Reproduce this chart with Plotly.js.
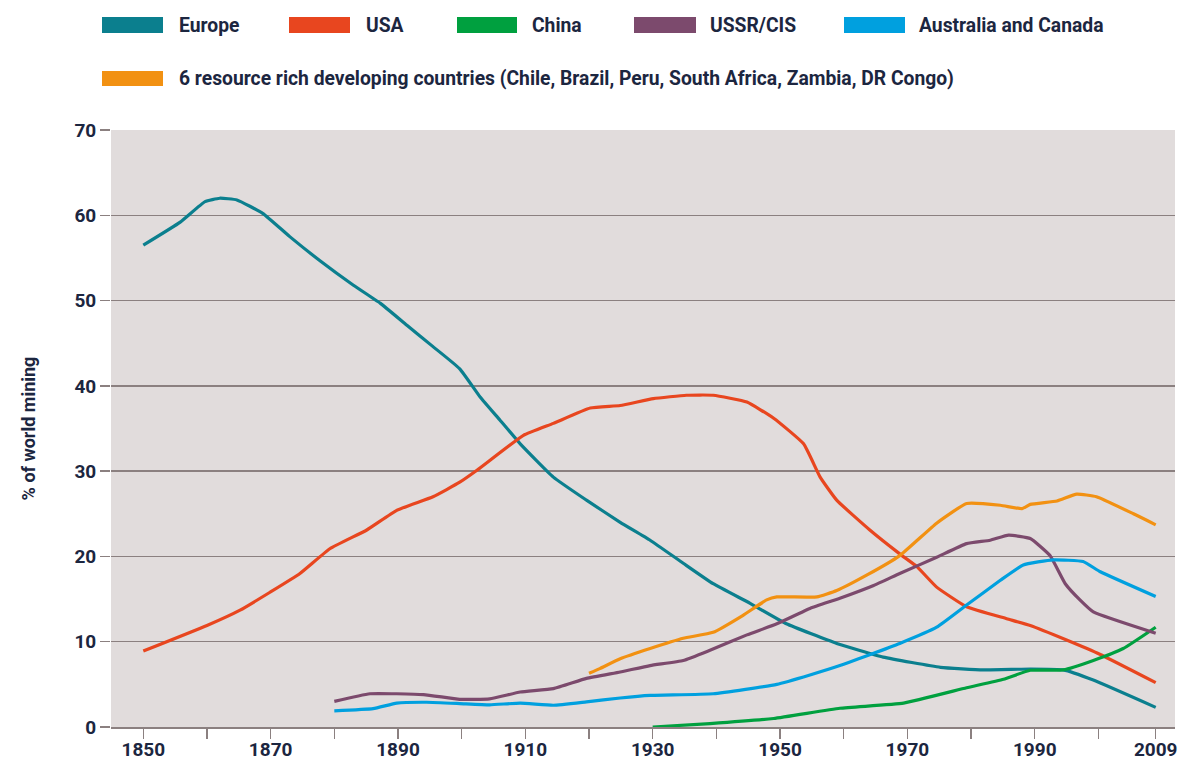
<!DOCTYPE html>
<html>
<head>
<meta charset="utf-8">
<script src="https://cdn.plot.ly/plotly-3.0.1.min.js"></script>
<style>
  html, body { margin: 0; padding: 0; background: #ffffff; }
  #chart { width: 1181px; height: 762px; }
</style>
</head>
<body>
<div id="chart"></div>
<script>
// ---------------- DATA ----------------
const europeYears = [1850, 1855.8, 1859.7, 1862, 1864.7, 1868.8, 1873, 1877.7, 1883, 1887.2, 1891.4, 1895.5, 1899.7, 1902.9, 1906, 1909.2, 1914.4, 1919.6, 1924.9, 1929.6, 1934.8, 1939.5, 1945.3, 1951, 1958.9, 1966.2, 1975.2, 1981.9, 1989.3, 1994.5, 1999.2, 2009];
const europeValues = [56.5, 59.2, 61.6, 62.0, 61.8, 60.2, 57.5, 54.7, 51.8, 49.7, 47.1, 44.6, 42.0, 38.7, 36.0, 33.2, 29.3, 26.6, 24.0, 21.9, 19.2, 16.8, 14.5, 12.1, 9.8, 8.2, 7.0, 6.7, 6.8, 6.7, 5.5, 2.3];

const usaYears = [1850, 1860, 1865.2, 1869.9, 1874.6, 1879.3, 1885.1, 1889.8, 1895.5, 1899.7, 1902.4, 1909.7, 1914.4, 1920.2, 1924.9, 1930.1, 1935.3, 1939.5, 1944.8, 1949, 1953.7, 1956.3, 1958.9, 1964.1, 1968.8, 1971.5, 1974.6, 1979.3, 1985.6, 1989.3, 1995, 2000.3, 2009];
const usaValues = [8.9, 11.9, 13.7, 15.8, 18.0, 20.9, 23.1, 25.4, 27.0, 28.7, 30.1, 34.2, 35.6, 37.4, 37.7, 38.5, 38.9, 38.9, 38.1, 36.2, 33.2, 29.3, 26.6, 23.1, 20.3, 18.8, 16.4, 14.1, 12.7, 11.9, 10.2, 8.5, 5.2];

const chinaYears = [1930, 1939, 1949, 1959.4, 1969.4, 1979.3, 1985.1, 1989.3, 1994.5, 1999.2, 2003.9, 2009];
const chinaValues = [0, 0.4, 1.0, 2.2, 2.8, 4.6, 5.6, 6.65, 6.7, 7.8, 9.2, 11.7];

const ussrYears = [1880, 1885.6, 1894, 1899.7, 1904.4, 1909.2, 1914.4, 1919.6, 1924.9, 1929.6, 1934.8, 1939, 1944.8, 1949.5, 1954.7, 1959.4, 1964.7, 1968.8, 1974.6, 1979.3, 1983, 1985.9, 1989.3, 1992.4, 1994.8, 1997.1, 1999.2, 2009];
const ussrValues = [3.0, 3.9, 3.8, 3.25, 3.3, 4.1, 4.5, 5.7, 6.45, 7.2, 7.8, 9.0, 10.8, 12.1, 13.9, 15.1, 16.6, 18.0, 19.9, 21.5, 21.9, 22.5, 22.1, 20.1, 16.8, 14.9, 13.5, 11.0];

const ausYears = [1880, 1886.1, 1889.8, 1894.5, 1899.7, 1904.4, 1909.2, 1914.4, 1919.6, 1924.9, 1929.6, 1939.5, 1949.5, 1954.7, 1959.4, 1968.8, 1974.6, 1979.3, 1984.6, 1988.2, 1992.9, 1997.6, 2000.3, 2009];
const ausValues = [1.9, 2.15, 2.8, 2.9, 2.75, 2.6, 2.8, 2.55, 2.95, 3.4, 3.7, 3.9, 5.0, 6.1, 7.2, 9.8, 11.7, 14.3, 17.2, 19.0, 19.6, 19.4, 18.2, 15.3];

const devYears = [1920, 1921.7, 1924.9, 1929.6, 1934.8, 1939.5, 1944.2, 1947.9, 1949.5, 1955.8, 1958.9, 1963.6, 1968.8, 1974.6, 1979.3, 1984.6, 1988, 1989.3, 1993.5, 1996.6, 1999.7, 2005.5, 2009];
const devValues = [6.3, 6.85, 8.0, 9.2, 10.4, 11.1, 13.1, 14.9, 15.25, 15.25, 16.0, 17.8, 20.1, 23.9, 26.2, 26.0, 25.6, 26.1, 26.5, 27.3, 27.0, 25.0, 23.7];

const seriesNames = ["Europe", "USA", "China", "USSR/CIS", "Australia and Canada",
  "6 resource rich developing countries (Chile, Brazil, Peru, South Africa, Zambia, DR Congo)"];

const xTickVals = [1850, 1860, 1870, 1880, 1890, 1900, 1910, 1920, 1930, 1940, 1950, 1960, 1970, 1980, 1990, 2000, 2009];
const xTickText = ["1850", "", "1870", "", "1890", "", "1910", "", "1930", "", "1950", "", "1970", "", "1990", "", "2009"];
const yTickVals = [0, 10, 20, 30, 40, 50, 60, 70];
const yTitle = "% of world mining";

// ---------------- STYLE ----------------
const colors = ["#0b7f8e", "#e8461f", "#00a03f", "#7c4a6d", "#00a0df", "#f29112"];
const FONT = 'Roboto, "Liberation Sans", sans-serif';
const TXT = "#1c2640";
const GRID = "#8b8080";

const W = 1181, H = 762;
const L = 111, R = 1175, T = 130, B = 727;
const px = x => (x - L) / (R - L);
const py = y => (B - y) / (B - T);

const allX = [europeYears, usaYears, chinaYears, ussrYears, ausYears, devYears];
const allY = [europeValues, usaValues, chinaValues, ussrValues, ausValues, devValues];

const traces = allX.map((xs, i) => ({
  type: "scatter", mode: "lines",
  x: xs, y: allY[i], name: seriesNames[i],
  line: { color: colors[i], width: 3.2, shape: "spline", smoothing: 0.4 },
  hoverinfo: "x+y+name", showlegend: false
}));

// manual legend (swatch + text)
const legendItems = [
  { sx0: 102, sx1: 163, tx: 177, y0: 17, y1: 33 },
  { sx0: 289, sx1: 350, tx: 364, y0: 17, y1: 33 },
  { sx0: 457, sx1: 517, tx: 530, y0: 17, y1: 33 },
  { sx0: 634, sx1: 696, tx: 708, y0: 17, y1: 33 },
  { sx0: 844, sx1: 905, tx: 917, y0: 17, y1: 33 },
  { sx0: 102, sx1: 163, tx: 177, y0: 71, y1: 86 }
];
const shapes = [];
const annotations = [];
legendItems.forEach((r, i) => {
  shapes.push({ type: "rect", xref: "paper", yref: "paper",
    x0: px(r.sx0), x1: px(r.sx1), y0: py(r.y1), y1: py(r.y0),
    fillcolor: colors[i], line: { width: 0 } });
  annotations.push({ xref: "paper", yref: "paper", x: px(r.tx), y: py((r.y0 + r.y1) / 2),
    xanchor: "left", yanchor: "middle", showarrow: false, text: "<b>" + seriesNames[i] + "</b>",
    font: { family: FONT, size: 19.3, color: TXT } });
});

const pxPerYear = (1155.7 - 143.3) / (2009 - 1850);
const xr0 = 1850 - (143.3 - L) / pxPerYear;
const xr1 = 2009 + (R - 1155.7) / pxPerYear;

const layout = {
  width: W, height: H,
  margin: { l: L, r: W - R, t: T, b: H - B, pad: 0 },
  paper_bgcolor: "#ffffff",
  plot_bgcolor: "#e1dcdc",
  font: { family: FONT, color: TXT },
  showlegend: false,
  xaxis: {
    range: [xr0, xr1], tickmode: "array", tickvals: xTickVals, ticktext: xTickText,
    showgrid: false, zeroline: false,
    showline: true, linecolor: GRID, linewidth: 2,
    ticks: "outside", ticklen: 10, tickwidth: 1.5, tickcolor: GRID,
    ticklabelstandoff: -6,
    tickfont: { family: FONT, size: 19, color: TXT, weight: "bold" },
    fixedrange: true
  },
  yaxis: {
    range: [0, 70], tickmode: "array", tickvals: yTickVals,
    showgrid: true, gridcolor: GRID, gridwidth: 1.5,
    zeroline: false, showline: false,
    ticks: "outside", ticklen: 10, tickwidth: 1.5, tickcolor: GRID,
    tickfont: { family: FONT, size: 19, color: TXT, weight: "bold" },
    title: { text: "<b>" + yTitle + "</b>", font: { family: FONT, size: 18, color: TXT }, standoff: 34 },
    fixedrange: true
  },
  shapes: shapes,
  annotations: annotations
};

Plotly.newPlot("chart", traces, layout, { displayModeBar: false, staticPlot: true });
</script>
</body>
</html>
